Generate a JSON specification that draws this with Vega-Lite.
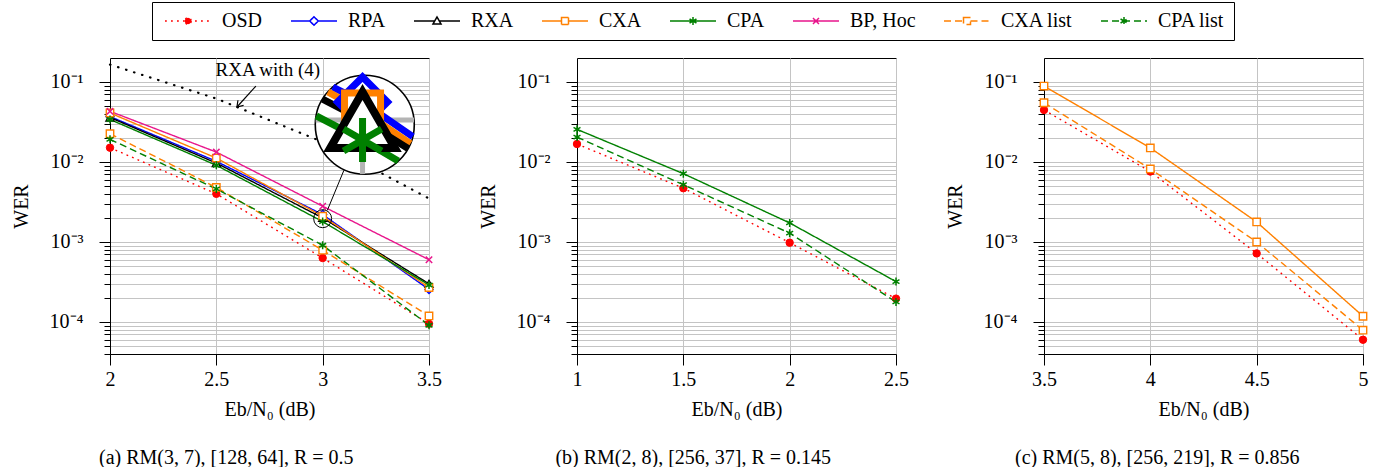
{
  "$schema": "https://vega.github.io/schema/vega-lite/v6.json",
  "padding": {"left": 10, "top": 1, "right": 5, "bottom": 5},
  "spacing": 148,
  "bounds": "flush",
  "datasets": {
    "a": [
      {"series": "OSD", "x": 2, "y": 0.0151}, {"series": "OSD", "x": 2.5, "y": 0.0040}, {"series": "OSD", "x": 3, "y": 0.00063}, {"series": "OSD", "x": 3.5, "y": 0.000095},
      {"series": "RPA", "x": 2, "y": 0.037}, {"series": "RPA", "x": 2.5, "y": 0.0102}, {"series": "RPA", "x": 3, "y": 0.0022}, {"series": "RPA", "x": 3.5, "y": 0.000255},
      {"series": "RXA", "x": 2, "y": 0.036}, {"series": "RXA", "x": 2.5, "y": 0.0097}, {"series": "RXA", "x": 3, "y": 0.0020}, {"series": "RXA", "x": 3.5, "y": 0.00030},
      {"series": "CXA", "x": 2, "y": 0.041}, {"series": "CXA", "x": 2.5, "y": 0.0112}, {"series": "CXA", "x": 3, "y": 0.0021}, {"series": "CXA", "x": 3.5, "y": 0.00027},
      {"series": "CPA", "x": 2, "y": 0.034}, {"series": "CPA", "x": 2.5, "y": 0.0091}, {"series": "CPA", "x": 3, "y": 0.0018}, {"series": "CPA", "x": 3.5, "y": 0.00029},
      {"series": "BP, Hoc", "x": 2, "y": 0.043}, {"series": "BP, Hoc", "x": 2.5, "y": 0.0133}, {"series": "BP, Hoc", "x": 3, "y": 0.0028}, {"series": "BP, Hoc", "x": 3.5, "y": 0.00060},
      {"series": "CXA list", "x": 2, "y": 0.0226}, {"series": "CXA list", "x": 2.5, "y": 0.0048}, {"series": "CXA list", "x": 3, "y": 0.00079}, {"series": "CXA list", "x": 3.5, "y": 0.000119},
      {"series": "CPA list", "x": 2, "y": 0.0192}, {"series": "CPA list", "x": 2.5, "y": 0.0046}, {"series": "CPA list", "x": 3, "y": 0.00091}, {"series": "CPA list", "x": 3.5, "y": 0.000091}
    ],
    "b": [
      {"series": "OSD", "x": 1, "y": 0.0168}, {"series": "OSD", "x": 1.5, "y": 0.0047}, {"series": "OSD", "x": 2, "y": 0.00098}, {"series": "OSD", "x": 2.5, "y": 0.000196},
      {"series": "CPA", "x": 1, "y": 0.0256}, {"series": "CPA", "x": 1.5, "y": 0.00715}, {"series": "CPA", "x": 2, "y": 0.00173}, {"series": "CPA", "x": 2.5, "y": 0.00032},
      {"series": "CPA list", "x": 1, "y": 0.0205}, {"series": "CPA list", "x": 1.5, "y": 0.0052}, {"series": "CPA list", "x": 2, "y": 0.00129}, {"series": "CPA list", "x": 2.5, "y": 0.000178}
    ],
    "c": [
      {"series": "OSD", "x": 3.5, "y": 0.0447}, {"series": "OSD", "x": 4, "y": 0.0076}, {"series": "OSD", "x": 4.5, "y": 0.00072}, {"series": "OSD", "x": 5, "y": 0.000060},
      {"series": "CXA", "x": 3.5, "y": 0.089}, {"series": "CXA", "x": 4, "y": 0.015}, {"series": "CXA", "x": 4.5, "y": 0.00178}, {"series": "CXA", "x": 5, "y": 0.000118},
      {"series": "CXA list", "x": 3.5, "y": 0.055}, {"series": "CXA list", "x": 4, "y": 0.0082}, {"series": "CXA list", "x": 4.5, "y": 0.0010}, {"series": "CXA list", "x": 5, "y": 0.000079}
    ],
    "bound": [
      {"x": 2, "y": 0.165}, {"x": 2.5, "y": 0.062}, {"x": 3, "y": 0.0178}, {"x": 3.5, "y": 0.0035}
    ],
    "note": [{"label": "RXA with (4)", "x": 2.742, "y": 0.141}],
    "arrow": [{"x": 2.686, "y": 0.089, "x2": 2.597, "y2": 0.0487}],
    "arrowhead": [{"x": 2.597, "y": 0.0487}],
    "lens": [{"part": "big", "x": 3.198, "y": 0.02924}, {"part": "small", "x": 3.0, "y": 0.001955}],
    "lensLink": [{"x": 3.0998, "y": 0.00787, "x2": 3.022, "y2": 0.00249}],
    "insetGrid": [
      {"x": 3.1875, "y": 0.1213, "x2": 3.1875, "y2": 0.007061},
      {"x": 2.9672, "y": 0.0335, "x2": 3.4295, "y2": 0.0335}
    ],
    "insetLines": [
      {"series": "RPA", "x": 3.0474, "y": 0.0865}, {"series": "RPA", "x": 3.1875, "y": 0.05623}, {"series": "RPA", "x": 3.4233, "y": 0.02071},
      {"series": "CXA", "x": 3.0246, "y": 0.07518}, {"series": "CXA", "x": 3.1875, "y": 0.04340}, {"series": "CXA", "x": 3.4126, "y": 0.01698},
      {"series": "RXA", "x": 2.9995, "y": 0.06111}, {"series": "RXA", "x": 3.1875, "y": 0.03350}, {"series": "RXA", "x": 3.4018, "y": 0.01471},
      {"series": "CPA", "x": 2.97, "y": 0.03769}, {"series": "CPA", "x": 3.1875, "y": 0.01884}, {"series": "CPA", "x": 3.3554, "y": 0.01026}
    ],
    "insetPts": [
      {"series": "RPA", "x": 3.1875, "y": 0.05623},
      {"series": "CXA", "x": 3.1875, "y": 0.04340},
      {"series": "RXA", "x": 3.1875, "y": 0.03350},
      {"series": "CPA", "x": 3.1875, "y": 0.01884}
    ]
  },
  "hconcat": [
    {
      "width": 319,
      "height": 296,
      "title": {"text": "(a) RM(3, 7), [128, 64], R = 0.5", "orient": "bottom", "frame": "bounds", "anchor": "middle", "offset": 29},
      "encoding": {
        "x": {"field": "x", "type": "quantitative", "scale": {"domain": [2, 3.5], "nice": false, "zero": false},
          "axis": {"title": "Eb/N₀ (dB)", "values": [2, 2.5, 3, 3.5], "labelExpr": "'' + datum.value", "tickSize": 11, "labelPadding": 4, "titlePadding": 10, "labelFlush": false, "grid": true}},
        "y": {"field": "y", "type": "quantitative", "scale": {"type": "log", "domain": [0.0000398, 0.1995], "nice": false},
          "axis": {"title": "WER", "values": [0.00004, 0.00005, 0.00006, 0.00007, 0.00008, 0.00009, 0.0001, 0.0002, 0.0003, 0.0004, 0.0005, 0.0006, 0.0007, 0.0008, 0.0009, 0.001, 0.002, 0.003, 0.004, 0.005, 0.006, 0.007, 0.008, 0.009, 0.01, 0.02, 0.03, 0.04, 0.05, 0.06, 0.07, 0.08, 0.09, 0.1],
            "labelExpr": "abs(log(datum.value)/LN10-round(log(datum.value)/LN10))<0.001 ? '10⁻' + ['⁰','¹','²','³','⁴','⁵'][-round(log(datum.value)/LN10)] : ''",
            "tickSize": {"condition": {"test": "abs(log(datum.value)/LN10-round(log(datum.value)/LN10))<0.001", "value": 11}, "value": 6},
            "labelPadding": 16, "titlePadding": 18, "labelOverlap": false, "labelFlush": false, "grid": true}}
      },
      "layer": [
        {"data": {"name": "bound"}, "mark": {"type": "line", "color": "#000000", "strokeWidth": 2.2, "strokeDash": [0.5, 7.9], "strokeCap": "round"}, "encoding": {}},
        {"data": {"name": "a"}, "mark": {"type": "line", "strokeWidth": 1.4},
          "encoding": {
            "color": {"field": "series", "type": "nominal", "title": null,
              "scale": {"domain": ["OSD", "RPA", "RXA", "CXA", "CPA", "BP, Hoc", "CXA list", "CPA list"], "range": ["#ff0000", "#0000ff", "#000000", "#ff8000", "#008000", "#e8168c", "#ff8000", "#008000"]},
              "legend": {"orient": "none", "legendX": 42, "legendY": -56, "direction": "horizontal",
                "encode": {"symbols": {"update": {
                  "shape": {"signal": "datum.value==='OSD' ? 'M-1.2,0H8M4.05,0L3.963,0.325L3.725,0.563L3.4,0.65L3.075,0.563L2.837,0.325L2.75,0L2.837,-0.325L3.075,-0.563L3.4,-0.65L3.725,-0.563L3.963,-0.325Z' : datum.value==='RPA' ? 'M-1.2,0H2.55M4.25,0H8M3.4,-0.85L4.25,0L3.4,0.85L2.55,0Z' : datum.value==='RXA' ? 'M-1.2,0H2.95M3.85,0H8M3.4,-0.8L4.2,0.6H2.6Z' : (datum.value==='CXA' || datum.value==='CXA list') ? 'M-1.2,0H2.7M4.1,0H8M2.7,-0.7H4.1V0.7H2.7Z' : datum.value==='BP, Hoc' ? 'M-1.2,0H8M2.8,-0.6L4,0.6M2.8,0.6L4,-0.6' : 'M-1.2,0H8M3.4,-0.8V0.8M2.71,-0.4L4.09,0.4M2.71,0.4L4.09,-0.4'"},
                  "fill": {"signal": "datum.value==='OSD' ? '#ff0000' : '#ffffff'"}
                }}}}},
            "strokeDash": {"field": "series", "type": "nominal", "title": null,
              "scale": {"domain": ["OSD", "RPA", "RXA", "CXA", "CPA", "BP, Hoc", "CXA list", "CPA list"], "range": [[1.8, 4.2], [1, 0], [1, 0], [1, 0], [1, 0], [1, 0], [7, 4], [7, 4]]}}
          }},
        {"data": {"name": "a"}, "transform": [{"filter": "datum.series === 'OSD'"}], "mark": {"type": "point", "shape": "circle", "filled": false, "fill": "#ff0000", "size": 55, "strokeWidth": 1, "opacity": 1}, "encoding": {"color": {"field": "series", "type": "nominal", "title": null}}},
        {"data": {"name": "a"}, "transform": [{"filter": "datum.series === 'RPA'"}], "mark": {"type": "point", "shape": "diamond", "filled": false, "fill": "#ffffff", "size": 64, "strokeWidth": 1.4, "opacity": 1}, "encoding": {"color": {"field": "series", "type": "nominal", "title": null}}},
        {"data": {"name": "a"}, "transform": [{"filter": "datum.series === 'RXA'"}], "mark": {"type": "point", "shape": "triangle-up", "filled": false, "fill": "#ffffff", "size": 64, "strokeWidth": 1.4, "opacity": 1}, "encoding": {"color": {"field": "series", "type": "nominal", "title": null}}},
        {"data": {"name": "a"}, "transform": [{"filter": "datum.series === 'CXA' || datum.series === 'CXA list'"}], "mark": {"type": "point", "shape": "square", "filled": false, "fill": "#ffffff", "size": 55, "strokeWidth": 1.4, "opacity": 1}, "encoding": {"color": {"field": "series", "type": "nominal", "title": null}}},
        {"data": {"name": "a"}, "transform": [{"filter": "datum.series === 'CPA' || datum.series === 'CPA list'"}], "mark": {"type": "point", "shape": "M0,-1V1M-0.866,-0.5L0.866,0.5M-0.866,0.5L0.866,-0.5", "filled": false, "size": 64, "strokeWidth": 1.5, "opacity": 1}, "encoding": {"color": {"field": "series", "type": "nominal", "title": null}}},
        {"data": {"name": "a"}, "transform": [{"filter": "datum.series === 'BP, Hoc'"}], "mark": {"type": "point", "shape": "M-0.8,-0.8L0.8,0.8M-0.8,0.8L0.8,-0.8", "filled": false, "size": 64, "strokeWidth": 1.5, "opacity": 1}, "encoding": {"color": {"field": "series", "type": "nominal", "title": null}}},
        {"data": {"name": "note"}, "mark": {"type": "text", "font": "Liberation Serif", "fontSize": 19, "color": "#000000"}, "encoding": {"text": {"field": "label"}}},
        {"data": {"name": "arrow"}, "mark": {"type": "rule", "color": "#000000", "strokeWidth": 1.2}, "encoding": {"x2": {"field": "x2"}, "y2": {"field": "y2"}}},
        {"data": {"name": "arrowhead"}, "mark": {"type": "point", "shape": "M-0.8,1.2L0,0L0.8,1.2", "angle": 222, "size": 90, "filled": false, "color": "#000000", "strokeWidth": 1.2, "opacity": 1}, "encoding": {}},
        {"data": {"name": "lensLink"}, "mark": {"type": "rule", "color": "#000000", "strokeWidth": 1}, "encoding": {"x2": {"field": "x2"}, "y2": {"field": "y2"}}},
        {"data": {"name": "lens"}, "transform": [{"filter": "datum.part === 'small'"}], "mark": {"type": "point", "shape": "circle", "size": 324, "filled": false, "color": "#000000", "strokeWidth": 1, "opacity": 1}, "encoding": {}},
        {"data": {"name": "lens"}, "transform": [{"filter": "datum.part === 'big'"}], "mark": {"type": "point", "shape": "circle", "size": 9801, "filled": false, "fill": "#ffffff", "color": "#000000", "strokeWidth": 1.6, "opacity": 1}, "encoding": {}},
        {"data": {"name": "insetGrid"}, "mark": {"type": "rule", "color": "#b4b4b4", "strokeWidth": 5}, "encoding": {"x2": {"field": "x2"}, "y2": {"field": "y2"}}},
        {"data": {"name": "insetLines"}, "mark": {"type": "line", "strokeWidth": 7, "strokeJoin": "miter"}, "encoding": {"color": {"field": "series", "type": "nominal", "title": null}}},
        {"data": {"name": "insetPts"}, "transform": [{"filter": "datum.series === 'RPA'"}], "mark": {"type": "point", "shape": "diamond", "filled": false, "fill": "#ffffff", "size": 2500, "strokeWidth": 7, "opacity": 1}, "encoding": {"color": {"field": "series", "type": "nominal", "title": null}}},
        {"data": {"name": "insetPts"}, "transform": [{"filter": "datum.series === 'CXA'"}], "mark": {"type": "point", "shape": "square", "filled": false, "fill": "#ffffff", "size": 1296, "strokeWidth": 7, "opacity": 1}, "encoding": {"color": {"field": "series", "type": "nominal", "title": null}}},
        {"data": {"name": "insetPts"}, "transform": [{"filter": "datum.series === 'RXA'"}], "mark": {"type": "point", "shape": "triangle-up", "filled": false, "fill": "#ffffff", "size": 4176, "strokeWidth": 8, "opacity": 1}, "encoding": {"color": {"field": "series", "type": "nominal", "title": null}}},
        {"data": {"name": "insetPts"}, "transform": [{"filter": "datum.series === 'CPA'"}], "mark": {"type": "point", "shape": "M0,-1V1M-0.866,-0.5L0.866,0.5M-0.866,0.5L0.866,-0.5", "filled": false, "size": 1936, "strokeWidth": 7, "opacity": 1}, "encoding": {"color": {"field": "series", "type": "nominal", "title": null}}}
      ]
    },
    {
      "width": 319,
      "height": 296,
      "title": {"text": "(b) RM(2, 8), [256, 37], R = 0.145", "orient": "bottom", "frame": "bounds", "anchor": "middle", "offset": 29},
      "encoding": {
        "x": {"field": "x", "type": "quantitative", "scale": {"domain": [1, 2.5], "nice": false, "zero": false},
          "axis": {"title": "Eb/N₀ (dB)", "values": [1, 1.5, 2, 2.5], "labelExpr": "'' + datum.value", "tickSize": 11, "labelPadding": 4, "titlePadding": 10, "labelFlush": false, "grid": true}},
        "y": {"field": "y", "type": "quantitative", "scale": {"type": "log", "domain": [0.0000398, 0.1995], "nice": false},
          "axis": {"title": "WER", "values": [0.00004, 0.00005, 0.00006, 0.00007, 0.00008, 0.00009, 0.0001, 0.0002, 0.0003, 0.0004, 0.0005, 0.0006, 0.0007, 0.0008, 0.0009, 0.001, 0.002, 0.003, 0.004, 0.005, 0.006, 0.007, 0.008, 0.009, 0.01, 0.02, 0.03, 0.04, 0.05, 0.06, 0.07, 0.08, 0.09, 0.1],
            "labelExpr": "abs(log(datum.value)/LN10-round(log(datum.value)/LN10))<0.001 ? '10⁻' + ['⁰','¹','²','³','⁴','⁵'][-round(log(datum.value)/LN10)] : ''",
            "tickSize": {"condition": {"test": "abs(log(datum.value)/LN10-round(log(datum.value)/LN10))<0.001", "value": 11}, "value": 6},
            "labelPadding": 16, "titlePadding": 18, "labelOverlap": false, "labelFlush": false, "grid": true}}
      },
      "layer": [
        {"data": {"name": "b"}, "mark": {"type": "line", "strokeWidth": 1.4},
          "encoding": {
            "color": {"field": "series", "type": "nominal", "title": null},
            "strokeDash": {"field": "series", "type": "nominal", "title": null}
          }},
        {"data": {"name": "b"}, "transform": [{"filter": "datum.series === 'OSD'"}], "mark": {"type": "point", "shape": "circle", "filled": false, "fill": "#ff0000", "size": 55, "strokeWidth": 1, "opacity": 1}, "encoding": {"color": {"field": "series", "type": "nominal", "title": null}}},
        {"data": {"name": "b"}, "transform": [{"filter": "datum.series === 'CPA' || datum.series === 'CPA list'"}], "mark": {"type": "point", "shape": "M0,-1V1M-0.866,-0.5L0.866,0.5M-0.866,0.5L0.866,-0.5", "filled": false, "size": 64, "strokeWidth": 1.5, "opacity": 1}, "encoding": {"color": {"field": "series", "type": "nominal", "title": null}}}
      ]
    },
    {
      "width": 319,
      "height": 296,
      "title": {"text": "(c) RM(5, 8), [256, 219], R = 0.856", "orient": "bottom", "frame": "bounds", "anchor": "middle", "offset": 29},
      "encoding": {
        "x": {"field": "x", "type": "quantitative", "scale": {"domain": [3.5, 5], "nice": false, "zero": false},
          "axis": {"title": "Eb/N₀ (dB)", "values": [3.5, 4, 4.5, 5], "labelExpr": "'' + datum.value", "tickSize": 11, "labelPadding": 4, "titlePadding": 10, "labelFlush": false, "grid": true}},
        "y": {"field": "y", "type": "quantitative", "scale": {"type": "log", "domain": [0.0000398, 0.1995], "nice": false},
          "axis": {"title": "WER", "values": [0.00004, 0.00005, 0.00006, 0.00007, 0.00008, 0.00009, 0.0001, 0.0002, 0.0003, 0.0004, 0.0005, 0.0006, 0.0007, 0.0008, 0.0009, 0.001, 0.002, 0.003, 0.004, 0.005, 0.006, 0.007, 0.008, 0.009, 0.01, 0.02, 0.03, 0.04, 0.05, 0.06, 0.07, 0.08, 0.09, 0.1],
            "labelExpr": "abs(log(datum.value)/LN10-round(log(datum.value)/LN10))<0.001 ? '10⁻' + ['⁰','¹','²','³','⁴','⁵'][-round(log(datum.value)/LN10)] : ''",
            "tickSize": {"condition": {"test": "abs(log(datum.value)/LN10-round(log(datum.value)/LN10))<0.001", "value": 11}, "value": 6},
            "labelPadding": 16, "titlePadding": 18, "labelOverlap": false, "labelFlush": false, "grid": true}}
      },
      "layer": [
        {"data": {"name": "c"}, "mark": {"type": "line", "strokeWidth": 1.4},
          "encoding": {
            "color": {"field": "series", "type": "nominal", "title": null},
            "strokeDash": {"field": "series", "type": "nominal", "title": null}
          }},
        {"data": {"name": "c"}, "transform": [{"filter": "datum.series === 'OSD'"}], "mark": {"type": "point", "shape": "circle", "filled": false, "fill": "#ff0000", "size": 55, "strokeWidth": 1, "opacity": 1}, "encoding": {"color": {"field": "series", "type": "nominal", "title": null}}},
        {"data": {"name": "c"}, "transform": [{"filter": "datum.series === 'CXA' || datum.series === 'CXA list'"}], "mark": {"type": "point", "shape": "square", "filled": false, "fill": "#ffffff", "size": 55, "strokeWidth": 1.4, "opacity": 1}, "encoding": {"color": {"field": "series", "type": "nominal", "title": null}}}
      ]
    }
  ],
  "config": {
    "font": "Liberation Serif",
    "background": "#ffffff",
    "view": {"stroke": "#000000", "strokeWidth": 1},
    "axis": {
      "labelFont": "Liberation Serif", "labelFontSize": 20, "labelColor": "#000000",
      "titleFont": "Liberation Serif", "titleFontSize": 20, "titleFontWeight": "normal", "titleColor": "#000000",
      "domainColor": "#000000", "tickColor": "#000000", "gridColor": "#c4c4c4", "gridWidth": 1
    },
    "legend": {
      "orient": "none", "legendX": 42, "legendY": -56, "direction": "horizontal",
      "strokeColor": "#000000", "padding": 9, "columnPadding": 24, "fillColor": "#ffffff",
      "labelFont": "Liberation Serif", "labelFontSize": 20, "labelColor": "#000000", "labelOffset": 41,
      "symbolSize": 100, "symbolStrokeWidth": 1.5, "symbolOpacity": 1
    },
    "title": {"font": "Liberation Serif", "fontSize": 20, "fontWeight": "normal", "color": "#000000"}
  }
}
